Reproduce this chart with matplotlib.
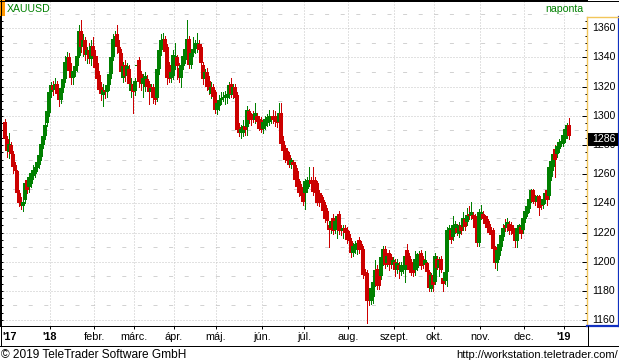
import numpy as np
import matplotlib
matplotlib.use("Agg")
import matplotlib.pyplot as plt
from matplotlib.patches import Rectangle
from matplotlib.lines import Line2D
import matplotlib.transforms as mtransforms

# ---------------- data (XAUUSD daily candles, Dec 2017 - Jan 2019) ----------------
month_labels = ["'17", "'18", "febr.", "márc.", "ápr.", "máj.", "jún.", "júl.",
                "aug.", "szept.", "okt.", "nov.", "dec.", "'19"]
bold_labels = ["'17", "'18", "'19"]
month_counts = [23, 22, 20, 20, 21, 23, 21, 22, 23, 20, 23, 22, 20, 3]

opens = [
    # Dec 2017
    1296, 1284, 1275, 1280, 1274, 1266, 1262, 1247, 1241, 1238, 1242, 1256, 1251, 1253, 1259, 1260, 1264, 1266, 1272, 1280, 1286, 1295, 1302,
    # Jan
    1316, 1321, 1318, 1322, 1315, 1311, 1319, 1325, 1337, 1340, 1331, 1326, 1331, 1334, 1341, 1358, 1347, 1352, 1342, 1345, 1339, 1348,
    # Feb
    1341, 1336, 1328, 1320, 1314, 1318, 1316, 1321, 1329, 1340, 1353, 1356, 1347, 1343, 1326, 1335, 1327, 1332, 1317, 1322,
    # Mar
    1317, 1334, 1338, 1329, 1322, 1320, 1325, 1322, 1316, 1320, 1318, 1312, 1332, 1345, 1347, 1353, 1347, 1335, 1326, 1327,
    # Apr
    1334, 1340, 1333, 1326, 1334, 1338, 1342, 1353, 1335, 1343, 1346, 1346, 1349, 1347, 1335, 1325, 1330, 1324, 1315, 1320, 1316,
    # May
    1304, 1307, 1311, 1312, 1312, 1312, 1314, 1322, 1314, 1320, 1314, 1292, 1288, 1288, 1293, 1292, 1303, 1299, 1301, 1297, 1300, 1298, 1297,
    # Jun
    1291, 1293, 1295, 1296, 1297, 1300, 1300, 1299, 1296, 1302, 1283, 1278, 1276, 1273, 1266, 1268, 1266, 1262, 1255, 1251, 1248,
    # Jul
    1247, 1250, 1254, 1256, 1256, 1256, 1254, 1247, 1246, 1242, 1239, 1235, 1225, 1223, 1230, 1222, 1225, 1233, 1223, 1221, 1223, 1222,
    # Aug
    1219, 1214, 1206, 1208, 1210, 1215, 1212, 1209, 1193, 1192, 1179, 1173, 1176, 1186, 1195, 1190, 1190, 1200, 1209, 1199, 1206, 1203, 1198,
    # Sep
    1200, 1194, 1198, 1193, 1194, 1194, 1208, 1204, 1200, 1199, 1194, 1196, 1200, 1206, 1202, 1198, 1199, 1193, 1181, 1191,
    # Oct
    1186, 1202, 1196, 1202, 1189, 1187, 1193, 1220, 1222, 1217, 1222, 1223, 1219, 1225, 1224, 1229, 1227, 1233, 1231, 1232, 1231, 1226, 1213,
    # Nov
    1231, 1233, 1231, 1229, 1226, 1222, 1222, 1210, 1199, 1204, 1210, 1217, 1225, 1223, 1226, 1225, 1223, 1222, 1214, 1222, 1224, 1222,
    # Dec
    1229, 1233, 1236, 1243, 1249, 1245, 1241, 1245, 1241, 1239, 1242, 1249, 1245, 1258, 1265, 1277, 1274, 1277, 1281, 1281,
    # Jan 2019
    1284, 1287, 1294,
]
highs = [
    1298, 1286, 1288, 1282, 1276, 1268, 1263, 1249, 1244, 1246, 1256, 1258, 1260, 1263, 1266, 1267, 1270, 1275, 1283, 1288, 1296, 1305, 1318,
    1323, 1324, 1326, 1324, 1319, 1322, 1328, 1341, 1344, 1343, 1336, 1333, 1336, 1342, 1362, 1366, 1356, 1354, 1347, 1350, 1352, 1354,
    1345, 1341, 1331, 1323, 1322, 1321, 1324, 1331, 1342, 1356, 1358, 1362, 1352, 1346, 1337, 1338, 1336, 1335, 1326, 1324,
    1326, 1335, 1340, 1331, 1329, 1330, 1328, 1324, 1322, 1322, 1320, 1334, 1350, 1356, 1357, 1355, 1349, 1337, 1332, 1345,
    1350, 1342, 1336, 1337, 1343, 1348, 1366, 1355, 1346, 1354, 1352, 1357, 1352, 1349, 1337, 1332, 1333, 1327, 1323, 1322, 1318,
    1311, 1314, 1316, 1316, 1317, 1318, 1323, 1326, 1322, 1322, 1316, 1295, 1294, 1297, 1295, 1307, 1305, 1302, 1303, 1309, 1302, 1300, 1299,
    1298, 1300, 1301, 1304, 1300, 1304, 1303, 1301, 1309, 1309, 1286, 1280, 1278, 1275, 1271, 1270, 1268, 1264, 1257, 1253, 1250,
    1257, 1258, 1265, 1258, 1265, 1258, 1255, 1249, 1247, 1244, 1241, 1237, 1228, 1230, 1233, 1230, 1233, 1235, 1225, 1225, 1225, 1224,
    1221, 1216, 1213, 1214, 1215, 1217, 1214, 1211, 1195, 1194, 1182, 1184, 1188, 1201, 1198, 1192, 1205, 1211, 1211, 1206, 1208, 1205, 1203,
    1202, 1202, 1200, 1200, 1199, 1206, 1212, 1206, 1202, 1201, 1207, 1206, 1207, 1208, 1204, 1207, 1200, 1194, 1192, 1193,
    1206, 1204, 1203, 1204, 1191, 1194, 1224, 1225, 1224, 1231, 1228, 1226, 1227, 1228, 1234, 1231, 1237, 1238, 1241, 1234, 1233, 1228, 1236,
    1239, 1235, 1232, 1231, 1228, 1224, 1223, 1211, 1210, 1214, 1220, 1226, 1229, 1230, 1228, 1227, 1225, 1223, 1224, 1226, 1226, 1231,
    1236, 1243, 1248, 1250, 1250, 1246, 1246, 1246, 1242, 1246, 1248, 1250, 1266, 1272, 1276, 1280, 1281, 1284, 1285, 1288,
    1292, 1295, 1298.5,
]
lows = [
    1281, 1272, 1271, 1270, 1261, 1258, 1245, 1238, 1236, 1235, 1240, 1247, 1248, 1251, 1257, 1258, 1262, 1264, 1270, 1278, 1284, 1293, 1300,
    1313, 1314, 1316, 1313, 1307, 1309, 1316, 1323, 1333, 1328, 1322, 1322, 1327, 1331, 1340, 1344, 1341, 1338, 1336, 1336, 1335, 1338,
    1330, 1322, 1316, 1311, 1307, 1312, 1313, 1318, 1326, 1338, 1348, 1343, 1339, 1327, 1323, 1324, 1325, 1319, 1313, 1302,
    1314, 1333, 1320, 1318, 1313, 1317, 1318, 1308, 1313, 1309, 1308, 1310, 1329, 1342, 1345, 1342, 1322, 1323, 1323, 1325,
    1332, 1325, 1323, 1320, 1332, 1336, 1340, 1333, 1333, 1341, 1343, 1344, 1343, 1334, 1322, 1322, 1318, 1315, 1312, 1310, 1302,
    1301, 1304, 1308, 1310, 1308, 1309, 1312, 1313, 1312, 1310, 1289, 1286, 1285, 1286, 1287, 1287, 1295, 1294, 1296, 1295, 1294, 1290, 1289,
    1288, 1291, 1293, 1294, 1295, 1295, 1293, 1292, 1294, 1279, 1274, 1268, 1267, 1265, 1264, 1264, 1255, 1250, 1245, 1243, 1239,
    1236, 1248, 1252, 1250, 1246, 1245, 1239, 1238, 1237, 1233, 1227, 1226, 1210, 1220, 1219, 1220, 1216, 1219, 1218, 1216, 1218, 1213,
    1207, 1203, 1204, 1206, 1205, 1206, 1206, 1189, 1187, 1158, 1170, 1171, 1172, 1183, 1181, 1181, 1188, 1198, 1196, 1197, 1194, 1196, 1195,
    1190, 1192, 1189, 1191, 1192, 1186, 1196, 1193, 1191, 1190, 1191, 1194, 1198, 1195, 1196, 1196, 1192, 1180, 1180, 1180,
    1185, 1195, 1190, 1193, 1180, 1185, 1183, 1218, 1213, 1215, 1220, 1218, 1217, 1219, 1222, 1222, 1225, 1229, 1229, 1226, 1221, 1211, 1211,
    1229, 1227, 1224, 1221, 1219, 1216, 1207, 1196, 1194, 1202, 1208, 1215, 1221, 1221, 1219, 1219, 1215, 1210, 1210, 1220, 1216, 1220,
    1227, 1231, 1234, 1241, 1240, 1239, 1239, 1232, 1236, 1237, 1240, 1239, 1243, 1256, 1263, 1258, 1272, 1275, 1279, 1279,
    1282, 1285, 1284,
]
closes = [
    1284, 1276, 1281, 1274, 1265, 1262, 1247, 1240, 1238, 1241, 1254, 1249, 1258, 1261, 1263, 1265, 1268, 1273, 1281, 1286, 1294, 1303, 1316,
    1321, 1318, 1322, 1315, 1311, 1319, 1325, 1337, 1340, 1331, 1326, 1331, 1334, 1341, 1358, 1347, 1352, 1342, 1345, 1339, 1348, 1341,
    1333, 1325, 1318, 1315, 1318, 1316, 1321, 1329, 1340, 1353, 1355, 1347, 1343, 1330, 1334, 1327, 1334, 1322, 1322, 1316,
    1324, 1334.5, 1323, 1322, 1326, 1327, 1320, 1316, 1319, 1312, 1311, 1332, 1345, 1352, 1353, 1344, 1326, 1325, 1330, 1342,
    1341, 1334, 1326, 1335, 1341, 1346, 1353, 1335, 1343, 1346, 1350, 1350, 1345, 1336, 1325, 1330, 1320, 1318, 1320, 1313, 1304,
    1309, 1311, 1312, 1313, 1314, 1315, 1321, 1315, 1320, 1312, 1290, 1288, 1291, 1293, 1290, 1304, 1297, 1297, 1297, 1302, 1296, 1291, 1290,
    1296, 1298, 1299, 1300, 1299, 1297, 1296, 1295, 1302, 1281, 1276, 1270, 1269, 1266, 1270, 1266, 1256, 1251, 1247, 1245, 1241,
    1255, 1256, 1256, 1253, 1248, 1247, 1240, 1240, 1240, 1235, 1229, 1228, 1222, 1228, 1221, 1228, 1231, 1221, 1221, 1223, 1220, 1215,
    1214, 1206, 1211, 1212, 1213, 1208, 1208, 1191, 1190, 1173, 1173, 1182, 1186, 1194, 1183, 1183, 1203, 1209, 1198, 1204, 1198, 1198, 1201,
    1194, 1199, 1194, 1198, 1197, 1204, 1198, 1194, 1192, 1192, 1202, 1205, 1204, 1197, 1198, 1201, 1193, 1182, 1191, 1184,
    1204, 1196, 1201, 1194, 1185, 1193, 1222, 1223, 1215, 1225, 1226, 1220, 1225, 1221, 1230, 1224, 1232, 1231, 1234, 1229, 1223, 1213, 1234,
    1234, 1229, 1226, 1223, 1220, 1218, 1209, 1199, 1208, 1212, 1218, 1223, 1223, 1227, 1221, 1221, 1219, 1214, 1223, 1225, 1219, 1230,
    1235, 1238, 1243, 1249, 1241, 1241, 1245, 1237, 1238, 1243, 1247, 1242, 1265, 1269, 1274, 1270, 1279, 1282, 1283, 1287,
    1291, 1294, 1286,
]
price_ticks = [1160, 1180, 1200, 1220, 1240, 1260, 1280, 1300, 1320, 1340, 1360]
last_label = "1286"

# ---------------- figure geometry (pixels) ----------------
W, H = 619, 364
fig = plt.figure(figsize=(W / 100, H / 100), dpi=100)
fig.patch.set_facecolor("white")
plt.rcParams["font.family"] = ["Liberation Sans", "DejaVu Sans"]

GREEN = "#008000"
RED = "#cc0000"
GRID = "#c4c4c4"
PX = 0.72  # one pixel in points

Y_LO, Y_HI = 1155.9, 1379.4
X_LO, X_HI = -2.5, 291.0
PLOT_R, PLOT_B = 587, 326
PANEL_T = 17

def fx(p):
    return p / W

def fy(p):
    return 1 - p / H

ax = fig.add_axes([0, fy(PLOT_B), fx(PLOT_R), PLOT_B / H])
ax.set_xlim(X_LO, X_HI)
ax.set_ylim(Y_LO, Y_HI)
ax.set_facecolor("white")
ax.spines["right"].set_visible(False)
for s in ["left", "top", "bottom"]:
    ax.spines[s].set_color("black")
    ax.spines[s].set_linewidth(PX)

o = np.array(opens, float)
h = np.array(highs, float)
l = np.array(lows, float)
c = np.array(closes, float)
idx = np.arange(len(c))

# month boundaries
starts = np.cumsum([0] + month_counts[:-1])
bounds = starts[1:] - 0.5

# grid
for v in price_ticks:
    ax.axhline(v, color=GRID, lw=PX, ls=(0, (1, 2)), zorder=0)
for v in range(1170, 1380, 20):
    ax.axhline(v, color="#d2d2d2", lw=PX, ls=(3, (4, 11.6)), zorder=0)
for b in bounds:
    ax.axvline(b, color=GRID, lw=PX, ls=(0, (1, 2)), zorder=0)

# ticks: left edge small inward ticks, bottom ticks at month boundaries
ax.set_yticks(np.arange(1160, 1380, 5))
ax.tick_params(axis="y", direction="in", length=2.2, width=PX, left=True,
               labelleft=False, colors="black")
ax.set_xticks(bounds)
ax.tick_params(axis="x", direction="out", length=2.5, width=PX, bottom=True,
               labelbottom=False)

# candles
up = c >= o
cols = np.where(up, GREEN, RED)
ax.vlines(idx, l, h, colors=cols, lw=PX, antialiased=False, zorder=2)
body_h = np.maximum(np.abs(c - o), 0.5)
ax.bar(idx, body_h, bottom=np.minimum(o, c), width=1.7, color=cols,
       linewidth=0, antialiased=False, zorder=3)

# ---------------- right price panel ----------------
pax = fig.add_axes([fx(PLOT_R), fy(PLOT_B), fx(W - PLOT_R), (PLOT_B - PANEL_T) / H])
pax.set_xlim(0, 1)
y_panel_top = Y_LO + (Y_HI - Y_LO) * (PLOT_B - PANEL_T) / PLOT_B
pax.set_ylim(Y_LO, y_panel_top)
pax.set_facecolor("white")
pax.spines["left"].set_color("#f2c65a")
pax.spines["top"].set_color("#f2c65a")
pax.spines["left"].set_linewidth(1.0)
pax.spines["top"].set_linewidth(1.0)
pax.spines["right"].set_color("#1030c0")
pax.spines["bottom"].set_color("#1030c0")
pax.spines["right"].set_linewidth(1.6)
pax.spines["bottom"].set_linewidth(1.6)
pax.set_xticks([])
pax.set_yticks(price_ticks)
pax.set_yticks(np.arange(1160, 1370, 5), minor=True)
pax.tick_params(axis="y", which="major", direction="out", length=3.6, width=PX,
                labelleft=False, colors="black")
pax.tick_params(axis="y", which="minor", direction="out", length=1.8, width=PX,
                labelleft=False, colors="black")
trans = mtransforms.blended_transform_factory(pax.transAxes, pax.transData)
for v in price_ticks:
    pax.text(0.15, v, str(v), transform=trans, ha="left", va="center",
             fontsize=7.6, color="black", zorder=3)
pax.add_patch(Rectangle((0.035, c[-1] - 6.6), 0.92, 9.0, transform=trans,
                        facecolor="black", edgecolor="none", zorder=4))
pax.text(0.15, c[-1] - 2.0, last_label, transform=trans, ha="left", va="center",
         fontsize=7.6, color="white", zorder=5)

# ---------------- frame, header, labels ----------------
def fline(x0, y0, x1, y1, color="black", lw=PX):
    fig.add_artist(Line2D([fx(x0), fx(x1)], [fy(y0), fy(y1)], color=color,
                          lw=lw, transform=fig.transFigure, antialiased=False))

fline(0, 0.5, W, 0.5)
fline(0.5, 0, 0.5, 346)
fline(W - 0.5, 0, W - 0.5, PANEL_T)
fline(PLOT_R + 0.5, PLOT_B, PLOT_R + 0.5, 346)
fline(W - 0.5, PLOT_B, W - 0.5, 346)
fline(0, 346, W, 346)

fig.add_artist(Rectangle((0, fy(16)), fx(5), 16 / H, transform=fig.transFigure,
                         facecolor="#ff9900", edgecolor="none"))
fig.text(fx(7), fy(9), "XAUUSD", color=GREEN, fontsize=7.6, ha="left", va="center")
fig.text(fx(583), fy(9), "naponta", color=GREEN, fontsize=7.6, ha="right", va="center")

# x labels
xpix = [2] + [51 + 2 * (b - 23) for b in bounds]
for k, (lab, xp) in enumerate(zip(month_labels, xpix)):
    bold = lab in bold_labels
    fig.text(fx(xp), fy(337), lab, fontsize=7.8, ha="left" if k == 0 else "center",
             va="center", fontweight="bold" if bold else "normal", color="black")

fig.add_artist(Rectangle((0, 0), fx(200), fy(347), transform=fig.transFigure,
                         facecolor="white", edgecolor="none", zorder=5))
fig.text(fx(1), fy(355.5), "© 2019 TeleTrader Software GmbH", fontsize=8.6,
         ha="left", va="center", color="black", zorder=6)
fig.text(fx(W - 1), fy(355.5), "http://workstation.teletrader.com/", fontsize=8.0,
         ha="right", va="center", color="black", zorder=6)

fig.savefig("out.png", dpi=100, facecolor="white")
